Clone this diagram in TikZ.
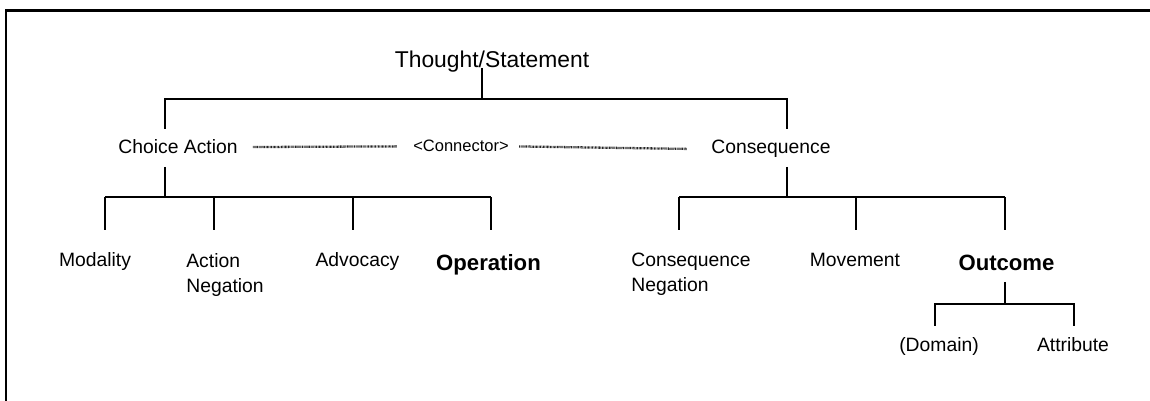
\documentclass[tikz,border=0pt]{standalone}
\usepackage{fontspec}
\setmainfont{Liberation Sans}
\usepackage{tikz}
\usetikzlibrary{calc}

\tikzset{
	branch/.style = {line width=1.1pt},
	frameline/.style = {line width=1.4pt},
	linkline/.style = {line width=1.3pt, dash pattern=on .45pt off .35pt, black!85},
	lbl/.style = {inner sep=0pt, anchor=base, font=\fontsize{11}{14.2}\selectfont},
	lbltwo/.style = {inner sep=0pt, anchor=north west, align=left, font=\fontsize{11}{14.2}\selectfont},
	lblbig/.style = {inner sep=0pt, anchor=base, font=\fontsize{12.6}{15}\selectfont\bfseries},
}

\begin{document}
\begin{tikzpicture}[x=.02cm, y=-.02cm]
	\clip (0,0) rectangle (1150,401);
	\draw[frameline] (6,420) |- (1170,10.5);

	% top level
	\node[lbl, font=\fontsize{13}{15.6}\selectfont] (thought) at (492,68) {Thought/Statement};
	\node[lbl] (choice) at (178,154) {Choice Action};
	\node[lbl] (conseq) at (771,154) {Consequence};
	\node[lbl, font=\fontsize{9.4}{11}\selectfont] (conn) at (461,152) {<Connector>};

	\coordinate (top) at (482,99);
	\coordinate (ca-up) at (165,129);
	\coordinate (cq-up) at (787,129);
	\draw[branch] (thought.base -| top) -- (top);
	\draw[branch] (ca-up) |- (top) -| (cq-up);

	\draw[linkline, shorten <=8.5pt, shorten >=9.1pt] (choice.east) -- (conn.west);
	\draw[linkline, shorten <=5.7pt, shorten >=13.7pt] (conn.east) -- (conseq.west);

	% choice action side
	\node[lbl] (modal) at (95,267) {Modality};
	\node[lbltwo] (aneg) at (186,253) {Action\\Negation};
	\node[lbl] (advoc) at (357.5,267) {Advocacy};
	\node[lblbig] (oper) at (488.5,271) {Operation};

	\coordinate (ca-down) at (165,167);
	\coordinate (ca-bar) at (165,197);
	\draw[branch] (ca-down) -- (ca-bar);
	\foreach \x/\n in {105/modal, 214/aneg, 353/advoc, 491/oper}{
		\coordinate (\n-t) at (\x,230);
		\draw[branch] (\n-t) -- (\n-t |- ca-bar);
	}
	\draw[branch] (modal-t |- ca-bar) -- (oper-t |- ca-bar);

	% consequence side
	\node[lbltwo] (cneg) at (631,253) {Consequence\\Negation};
	\node[lbl] (move) at (855,267) {Movement};
	\node[lblbig] (outc) at (1006.5,271) {Outcome};

	\coordinate (cq-down) at (787,167);
	\coordinate (cq-bar) at (787,197);
	\draw[branch] (cq-down) -- (cq-bar);
	\foreach \x/\n in {679/cneg, 856/move, 1005/outc}{
		\coordinate (\n-t) at (\x,230);
		\draw[branch] (\n-t) -- (\n-t |- cq-bar);
	}
	\draw[branch] (cneg-t |- cq-bar) -- (outc-t |- cq-bar);

	% outcome
	\node[lbl] (domain) at (939,352) {(Domain)};
	\node[lbl] (attr) at (1073,352) {Attribute};

	\coordinate (oc-down) at (1005,282);
	\coordinate (oc-bar) at (1005,304);
	\coordinate (domain-t) at (935,326);
	\coordinate (attr-t) at (1074,326);
	\draw[branch] (oc-down) -- (oc-bar);
	\draw[branch] (domain-t) |- (oc-bar) -| (attr-t);
\end{tikzpicture}
\end{document}
